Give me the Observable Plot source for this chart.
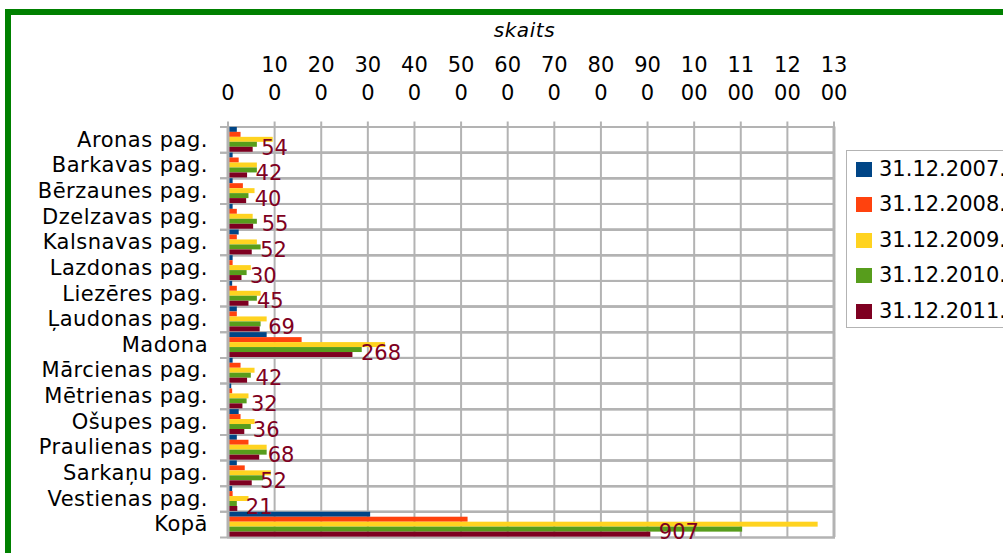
<!DOCTYPE html>
<html>
<head>
<meta charset="utf-8">
<script src="https://cdn.jsdelivr.net/npm/d3@7"></script>
<script src="https://cdn.jsdelivr.net/npm/@observablehq/plot@0.6"></script>
<style>
  html, body { margin: 0; padding: 0; background: #fff; }
  #wrap { position: relative; width: 1003px; height: 553px; overflow: hidden; background: #fff; font-family: "DejaVu Sans", sans-serif; }
  #border { position: absolute; left: 5px; top: 9px; width: 1300px; height: 900px; border: 6px solid #008000; box-sizing: border-box; pointer-events: none; }
  #chart { position: absolute; left: 0; top: 0; }
  #title { position: absolute; left: 0; width: 1049px; top: 19px; text-align: center; font-style: italic; font-size: 20px; line-height: 22px; letter-spacing: 0.6px; }
  #legend { position: absolute; left: 846px; top: 150px; width: 220px; height: 176px; border: 1px solid #b3b3b3; background: #fff; }
  .item { position: absolute; left: 0; height: 30px; }
  .sw { position: absolute; left: 9px; width: 16px; height: 15px; }
  .lab { position: absolute; left: 32px; font-size: 21px; line-height: 24px; white-space: nowrap; }
  #chart g[aria-label="fy-axis tick label"] text { letter-spacing: 0.5px; }
</style>
</head>
<body>
<div id="wrap">
  <div id="chart"></div>
  <div id="title">skaits</div>
  <div id="legend"></div>
  <div id="border"></div>
</div>
<script>
const categories = ["Aronas pag.", "Barkavas pag.", "Bērzaunes pag.", "Dzelzavas pag.", "Kalsnavas pag.", "Lazdonas pag.", "Liezēres pag.", "Ļaudonas pag.", "Madona", "Mārcienas pag.", "Mētrienas pag.", "Ošupes pag.", "Praulienas pag.", "Sarkaņu pag.", "Vestienas pag.", "Kopā"];
const seriesNames = ["31.12.2007.", "31.12.2008.", "31.12.2009.", "31.12.2010.", "31.12.2011."];
const seriesColors = ["#004586", "#ff420e", "#ffd320", "#579d1c", "#7e0021"];
const v2007 = [20, 11, 11, 11, 24, 11, 10, 20, 84, 11, 8, 24, 20, 20, 10, 306];
const v2008 = [28, 24, 33, 20, 20, 11, 20, 20, 159, 28, 10, 28, 45, 37, 11, 515];
const v2009 = [97, 63, 58, 54, 63, 50, 71, 84, 338, 58, 45, 58, 84, 93, 45, 1266];
const v2010 = [63, 63, 45, 63, 71, 41, 63, 71, 288, 50, 41, 50, 84, 76, 20, 1104];
const v2011 = [54, 42, 40, 55, 52, 30, 45, 69, 268, 42, 32, 36, 68, 52, 21, 907];
const xTicks = [0, 100, 200, 300, 400, 500, 600, 700, 800, 900, 1000, 1100, 1200, 1300];

const seriesValues = [v2007, v2008, v2009, v2010, v2011];
const rows = [];
categories.forEach((c, i) => seriesNames.forEach((s, j) => rows.push({category: c, series: s, value: seriesValues[j][i]})));
const lastRows = rows.filter(d => d.series === seriesNames[seriesNames.length - 1]);

// wrap tick labels like the original narrow columns
function wrapTick(d) {
  const s = String(d);
  if (s.length === 1) return "\n" + s;
  return s.slice(0, 2) + "\n" + s.slice(2);
}

const grid = "#b3b3b3";
const chart = Plot.plot({
  width: 1003,
  height: 553,
  marginLeft: 227.5,
  marginRight: 169.5,
  marginTop: 126.5,
  marginBottom: 16,
  style: {fontFamily: "DejaVu Sans", fontSize: "21px", color: "#000", background: "transparent", overflow: "visible"},
  x: {domain: [0, 1300], axis: null},
  y: {domain: seriesNames, paddingInner: 0, paddingOuter: 0.08, round: false, axis: null},
  fy: {domain: categories, padding: 0, round: false, axis: null},
  color: {domain: seriesNames, range: seriesColors},
  marks: [
    Plot.gridX({ticks: xTicks, stroke: grid, strokeOpacity: 1, strokeWidth: 2}),
    Plot.frame({stroke: grid, strokeWidth: 2}),
    Plot.frame({anchor: "top", insetLeft: -7, stroke: grid, strokeWidth: 2}),
    Plot.frame({anchor: "bottom", insetLeft: -7, stroke: grid, strokeWidth: 2}),
    Plot.barX(rows, {x: "value", y: "series", fy: "category", fill: "series"}),
    Plot.ruleX([0, 1300], {stroke: grid, strokeWidth: 3}),
    Plot.text(lastRows, {x: "value", y: "series", fy: "category", text: d => String(d.value), textAnchor: "start", dx: 8, dy: -2, fill: seriesColors[4], fontSize: 21}),
    Plot.axisX({anchor: "top", ticks: xTicks, tickSize: 6, tickPadding: 21, tickFormat: wrapTick, lineHeight: 1.33, stroke: grid, strokeWidth: 2, fill: "#000", fontSize: 21, label: null}),
    Plot.axisFy({anchor: "left", tickSize: 0, tickPadding: 20, fill: "#000", fontSize: 21, label: null})
  ]
});
document.getElementById("chart").appendChild(chart);

const legend = document.getElementById("legend");
const itemTops = [18, 53, 89, 124, 160];
seriesNames.forEach((s, j) => {
  const it = document.createElement("div");
  it.className = "item";
  it.style.top = itemTops[j] - 15 + "px";
  it.innerHTML = `<div class="sw" style="top:8px;background:${seriesColors[j]}"></div><div class="lab" style="top:3px">${s}</div>`;
  legend.appendChild(it);
});
</script>
</body>
</html>
